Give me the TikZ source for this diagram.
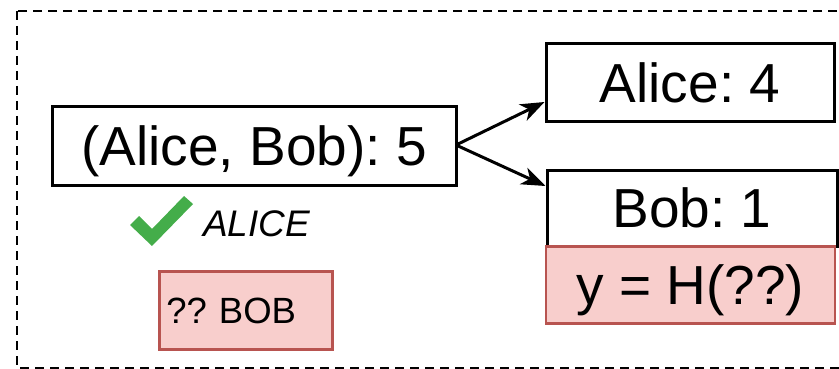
\documentclass[tikz,border=0pt]{standalone}
\usepackage{fontspec}
\setmainfont{Liberation Sans}
\usetikzlibrary{arrows.meta}
\definecolor{pinkfill}{HTML}{F8CECC}
\definecolor{pinkline}{HTML}{B85450}
\definecolor{checkgreen}{HTML}{44AD4A}
\frenchspacing
\tikzset{
  box/.style={draw=black, line width=3pt, fill=white, inner sep=0pt,
    text height=39.4pt, text depth=0pt,
    font=\fontsize{55}{60}\selectfont},
  redbox/.style={box, draw=pinkline, line width=2.5pt, fill=pinkfill},
  link/.style={line width=3pt, -{Stealth[length=24pt,width=18pt,inset=7pt]}},
}
\begin{document}
\begin{tikzpicture}[x=1pt,y=-1pt]
  \useasboundingbox (0,0) rectangle (839,369);
  \clip (0,0) rectangle (839,369);
  % dashed enclosure
  \draw[line width=2.5pt, dash pattern=on 9pt off 6pt] (17,11) rectangle (880,368);

  % key-value boxes
  \node[box, minimum width=404pt, minimum height=78pt] (pair) at (254,146) {(Alice, Bob): 5};
  \node[box, minimum width=288pt, minimum height=78pt] (alice) at (690,83) {Alice: 4};
  \node[box, minimum width=290pt, minimum height=76pt] (bob) at (692,208) {Bob: 1};
  \node[redbox, minimum width=289pt, minimum height=77pt] (hash) at (690.5,285) {y = H(??)};
  \node[redbox, anchor=north west, minimum height=78pt, text width=159pt, inner xsep=7pt,
        align=left, text height=26.1pt, font=\fontsize{36.5}{40}\selectfont] (unknown) at (158,270) {?? BOB};

  % arrows
  \coordinate (fork) at (456,145);
  \draw[link] (fork) -- (alice.south west |- 0,102);
  \draw[link] (fork) -- (bob.north west |- 0,186);

  % check mark with handwritten label
  \fill[checkgreen] (130,225) -- (139,216) -- (152,229) -- (184,196) -- (193,204) -- (152,246) -- cycle;
  \node[anchor=west, inner sep=0pt, text height=26.5pt, text depth=0pt,
        font=\fontsize{37}{40}\selectfont\itshape] (ok) at (203,223) {ALICE};
\end{tikzpicture}
\end{document}
